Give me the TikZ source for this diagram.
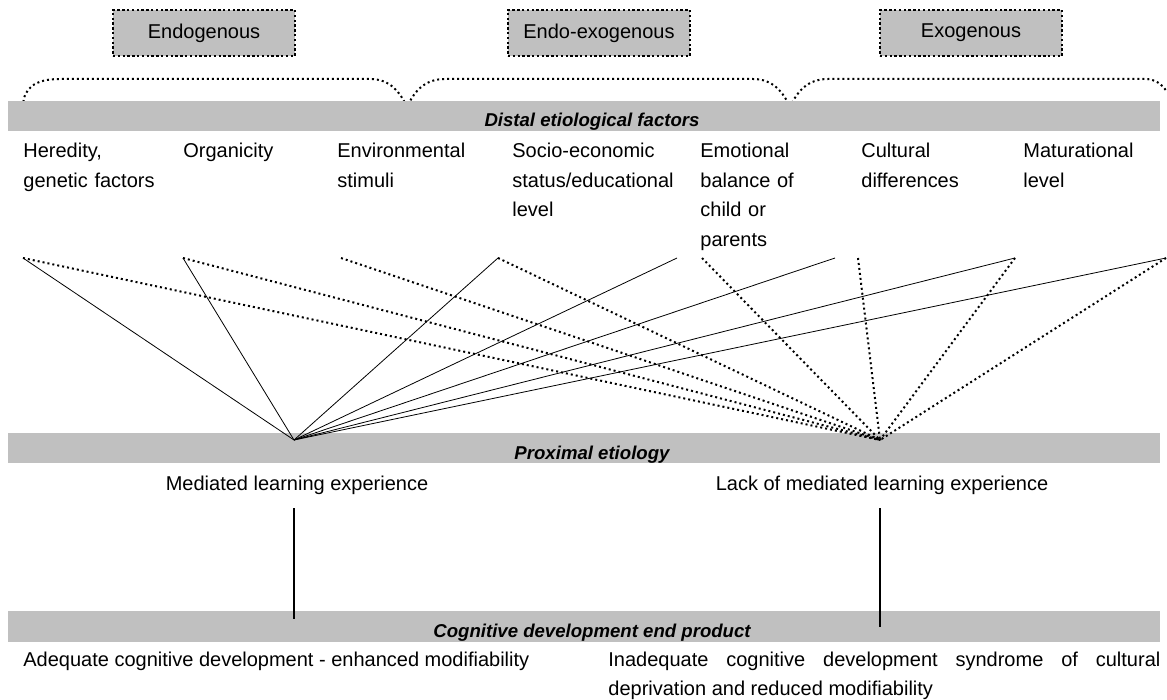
\documentclass[tikz,border=0pt]{standalone}
\usepackage{fontspec}
\setmainfont{Liberation Sans}
\definecolor{barGray}{HTML}{C0C0C0}

\begin{document}
\begin{tikzpicture}[x=0.5pt,y=-0.5pt,
	txt/.style={font=\fontsize{10}{14.75}\selectfont},
	factor/.style={txt,anchor=base west,align=left,text width=85pt,inner sep=0pt},
	origin/.style={txt,draw=black,fill=barGray,line width=1.2pt,dash pattern=on 1.2pt off 1.2pt,minimum width=91pt,minimum height=23pt,inner sep=0pt},
	barlabel/.style={anchor=base,inner sep=0pt,font=\fontsize{9.3}{11}\selectfont\bfseries\itshape},
	solidlink/.style={line width=0.4pt},
	dotlink/.style={line width=1pt,dash pattern=on 1pt off 1.5pt},
	stem/.style={line width=1pt}]
	\useasboundingbox (0,0) rectangle (1167,700);

	% origins of the factors
	\node[origin] (endo) at (204,33) {Endogenous};
	\node[origin] (endoexo) at (599,33) {Endo-exogenous};
	\node[origin] (exo) at (971,33) {Exogenous};

	% braces
	\draw[dotlink] (23,107) .. controls (23,88) and (35,79) .. (60,79) -- (370,79)
		.. controls (390,79) and (400,92) .. (407,107)
		.. controls (414,92) and (424,79) .. (445,79) -- (753,79)
		.. controls (773,79) and (783,92) .. (790,107)
		.. controls (797,92) and (807,79) .. (828,79) -- (1145,79)
		.. controls (1155,79) and (1162,84) .. (1167,92);

	% gray bands
	\fill[barGray] (8,101) rectangle (1160,131);
	\fill[barGray] (8,433) rectangle (1160,463);
	\fill[barGray] (8,611) rectangle (1160,642);
	\node[barlabel] (distal) at (592,127) {Distal etiological factors};
	\node[barlabel] (proximal) at (592,459) {Proximal etiology};
	\node[barlabel] (product) at (592,637) {Cognitive development end product};

	% distal factors
	\node[factor] (heredity) at (23,158) {Heredity,\\genetic factors};
	\node[factor] (organicity) at (183,158) {Organicity};
	\node[factor] (environ) at (337,158) {Environmental\\stimuli};
	\node[factor] (socio) at (512,158) {Socio-economic\\status/educational\\level};
	\node[factor] (emotional) at (700,158) {Emotional\\balance of\\child or\\parents};
	\node[factor] (cultural) at (861,158) {Cultural\\differences};
	\node[factor] (maturational) at (1023,158) {Maturational\\level};

	\coordinate (t1) at (23,258);
	\coordinate (t2) at (183,258);
	\coordinate (t3) at (341,258);
	\coordinate (t4) at (498,258);
	\coordinate (t5s) at (677,258);
	\coordinate (t5d) at (702,258);
	\coordinate (t6s) at (835,258);
	\coordinate (t6d) at (858,258);
	\coordinate (t7) at (1015,258);
	\coordinate (t8) at (1166,258);
	\coordinate (hubL) at (294,440);
	\coordinate (hubR) at (880,440);

	\path [solidlink] (t1) edge (hubL);
	\path [solidlink] (t2) edge (hubL);
	\path [solidlink] (t4) edge (hubL);
	\path [solidlink] (t5s) edge (hubL);
	\path [solidlink] (t6s) edge (hubL);
	\path [solidlink] (t7) edge (hubL);
	\path [solidlink] (t8) edge (hubL);
	\path [dotlink] (t1) edge (hubR);
	\path [dotlink] (t2) edge (hubR);
	\path [dotlink] (t3) edge (hubR);
	\path [dotlink] (t4) edge (hubR);
	\path [dotlink] (t5d) edge (hubR);
	\path [dotlink] (t6d) edge (hubR);
	\path [dotlink] (t7) edge (hubR);
	\path [dotlink] (t8) edge (hubR);

	% proximal etiology
	\node[txt,anchor=base,inner sep=0pt] (mle) at (297,490) {Mediated learning experience};
	\node[txt,anchor=base,inner sep=0pt] (nomle) at (882,490) {Lack of mediated learning experience};
	\coordinate (mleTop) at (294,508);
	\coordinate (mleEnd) at (294,619);
	\coordinate (nomleTop) at (880,508);
	\coordinate (nomleEnd) at (880,627);
	\path [stem] (mleTop) edge (mleEnd);
	\path [stem] (nomleTop) edge (nomleEnd);

	% end products
	\node[txt,anchor=base west,inner sep=0pt] (adequate) at (23,666) {Adequate cognitive development - enhanced modifiability};
	\node[factor,align=justify,text width=276pt] (inadequate) at (608,666)
		{Inadequate cognitive development syndrome of cultural\linebreak deprivation and reduced modifiability};
\end{tikzpicture}
\end{document}
